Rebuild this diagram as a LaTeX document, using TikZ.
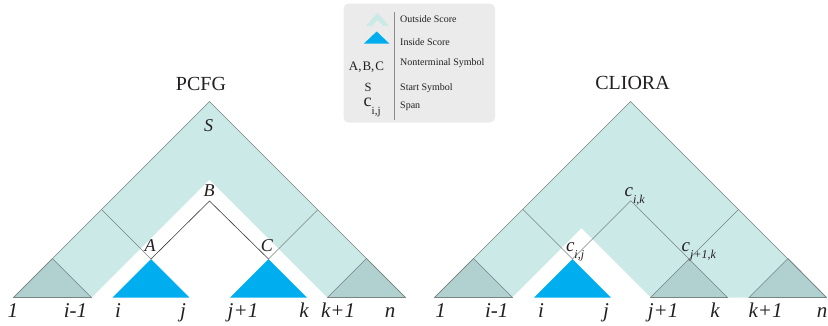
\documentclass[tikz,border=0pt]{standalone}
\usepackage{fontspec}
\setmainfont{Liberation Serif}
\definecolor{outsc}{RGB}{203,233,230}
\definecolor{graytri}{RGB}{177,208,208}
\definecolor{insc}{RGB}{0,174,239}
\definecolor{edgec}{RGB}{118,132,132}
\definecolor{darkc}{RGB}{60,60,60}
\definecolor{legbg}{RGB}{235,235,235}
\definecolor{txt}{RGB}{35,31,32}
\begin{document}
\begin{tikzpicture}[x=1pt,y=-1pt,
  edge/.style={draw=edgec,line width=0.6pt},
  darkedge/.style={draw=darkc,line width=0.6pt},
  graytrib/.style={fill=graytri,draw=edgec,line width=0.6pt},
  insctri/.style={fill=insc,draw=none},
  titlelbl/.style={font=\fontsize{20}{24}\selectfont,text=txt,inner sep=0pt},
  idx/.style={font=\fontsize{21}{24}\selectfont\itshape,text=txt,anchor=base,inner sep=0pt},
  symb/.style={font=\fontsize{18}{20}\selectfont\itshape,text=txt,inner sep=0pt},
  spanlbl/.style={font=\fontsize{19}{20}\selectfont\itshape,text=txt,anchor=base west,inner sep=0pt},
  legtext/.style={font=\fontsize{10}{11}\selectfont,text=txt,anchor=west,inner sep=0pt},
  legsym/.style={text=txt,inner sep=0pt}]
\useasboundingbox (0,0) rectangle (828,325);

% ---------------- Legend ----------------
\fill[legbg,rounded corners=5pt] (343.5,3.5) rectangle (495,122.5);
\coordinate (sepT) at (394.5,11.5);
\coordinate (sepB) at (394.5,120);
\draw[draw=black!45,line width=0.5pt] (sepT) -- (sepB);
\fill[outsc,even odd rule] (366,26) -- (377.5,12.5) -- (389,26) -- cycle
  (371.5,26) -- (377.5,20) -- (383.5,26) -- cycle;
\fill[insc] (364,43.5) -- (376.7,31.5) -- (389.3,43.5) -- cycle;
\node[legsym,font=\fontsize{13}{14}\selectfont] (legABC) at (366.5,67) {A,\kern1pt B,\kern1pt C};
\node[legsym,font=\fontsize{12.5}{14}\selectfont] (legS) at (368,87.5) {S};
\node[legsym,anchor=base west,font=\fontsize{18}{18}\selectfont] (legC) at (363.5,106) {c\raisebox{-8.5pt}{\fontsize{11}{11}\selectfont i,j}};
\node[legtext] (t1) at (400,19) {Outside Score};
\node[legtext] (t2) at (400,42.3) {Inside Score};
\node[legtext] (t3) at (400,63.5) {Nonterminal Symbol};
\node[legtext] (t4) at (400,87.7) {Start Symbol};
\node[legtext] (t5) at (400,106.7) {Span};

% ---------------- PCFG ----------------
\coordinate (pL) at (13.5,297.5);
\coordinate (pT) at (209.5,101.5);
\coordinate (pR) at (405.5,297.5);
\coordinate (pWl) at (91.5,297.5);
\coordinate (pWt) at (209.5,179.5);
\coordinate (pWr) at (327.5,297.5);
\coordinate (pG1t) at (52.5,258.5);
\coordinate (pG2t) at (366.5,258.5);
\coordinate (pAl) at (112.5,297.5);
\coordinate (pA) at (151,259);
\coordinate (pAr) at (189.5,297.5);
\coordinate (pCl) at (230,297.5);
\coordinate (pC) at (268.5,259);
\coordinate (pCr) at (307,297.5);
\coordinate (pB) at (209.5,201);
\coordinate (pE1) at (101.5,209.5);
\coordinate (pE2) at (317.75,209.75);

\fill[outsc] (pL) -- (pT) -- (pR) -- (pWr) -- (pWt) -- (pWl) -- cycle;
\draw[graytrib] (pL) -- (pG1t) -- (pWl) -- cycle;
\draw[graytrib] (pWr) -- (pG2t) -- (pR) -- cycle;
\fill[insc] (pAl) -- (pA) -- (pAr) -- cycle;
\fill[insc] (pCl) -- (pC) -- (pCr) -- cycle;
\draw[edge] (pL) -- (pT) -- (pR);
\draw[edge] (pE1) -- (pA);
\draw[edge] (pC) -- (pE2);
\draw[darkedge] (pA) -- (pB) -- (pC);

\node[titlelbl] (pcfg) at (201,83.5) {PCFG};
\node[symb] (lS) at (208.5,125.3) {S};
\node[symb] (lB) at (209,190.2) {B};
\node[symb] (lA) at (150,246) {A};
\node[symb] (lC) at (267,246) {C};

\node[idx] (p1) at (13,317) {1};
\node[idx] (p2) at (75.5,317) {i-1};
\node[idx] (p3) at (118,317) {i};
\node[idx] (p4) at (183,317) {j};
\node[idx] (p5) at (243,317) {j+1};
\node[idx] (p6) at (304,317) {k};
\node[idx] (p7) at (338,317) {k+1};
\node[idx] (p8) at (390,317) {n};

% ---------------- CLIORA ----------------
\coordinate (qL) at (434.5,297.5);
\coordinate (qT) at (630.5,101.5);
\coordinate (qR) at (826.5,297.5);
\coordinate (qWl) at (512,297.5);
\coordinate (qWt) at (581.5,228);
\coordinate (qWr) at (651,297.5);
\coordinate (qG1t) at (473.5,258.5);
\coordinate (qG1r) at (512.5,297.5);
\coordinate (qIl) at (534,297.5);
\coordinate (qIJ) at (572.5,259);
\coordinate (qIr) at (611,297.5);
\coordinate (qG2l) at (650.5,297.5);
\coordinate (qJK) at (689,259);
\coordinate (qG2r) at (727.5,297.5);
\coordinate (qG3l) at (749,297.5);
\coordinate (qG3t) at (788,258.5);
\coordinate (qIK) at (630.75,200.75);
\coordinate (qE1) at (522.75,209.25);
\coordinate (qE2) at (738.5,209.5);

\fill[outsc] (qL) -- (qT) -- (qR) -- (qWr) -- (qWt) -- (qWl) -- cycle;
\draw[graytrib] (qL) -- (qG1t) -- (qG1r) -- cycle;
\draw[graytrib] (qG2l) -- (qJK) -- (qG2r) -- cycle;
\draw[graytrib] (qG3l) -- (qG3t) -- (qR) -- cycle;
\fill[insc] (qIl) -- (qIJ) -- (qIr) -- cycle;
\draw[edge] (qL) -- (qT) -- (qR);
\draw[edge] (qE1) -- (qIJ);
\draw[edge] (qJK) -- (qE2);
\draw[edge] (qIJ) -- (qIK) -- (qJK);

\node[titlelbl] (cliora) at (632.5,83) {CLIORA};
\node[spanlbl] (cik) at (624.5,196) {c\raisebox{-7pt}{\fontsize{12}{12}\selectfont i,k}};
\node[spanlbl] (cij) at (565.8,251.7) {c\raisebox{-6.5pt}{\fontsize{12}{12}\selectfont i,j}};
\node[spanlbl] (cjk) at (681.5,251.7) {c\raisebox{-6.5pt}{\fontsize{12}{12}\selectfont j+1,k}};

\node[idx] (q1) at (440.5,317) {1};
\node[idx] (q2) at (496.7,317) {i-1};
\node[idx] (q3) at (541,317) {i};
\node[idx] (q4) at (606,317) {j};
\node[idx] (q5) at (663,317) {j+1};
\node[idx] (q6) at (715,317) {k};
\node[idx] (q7) at (765.5,317) {k+1};
\node[idx] (q8) at (822,317) {n};
\end{tikzpicture}
\end{document}
